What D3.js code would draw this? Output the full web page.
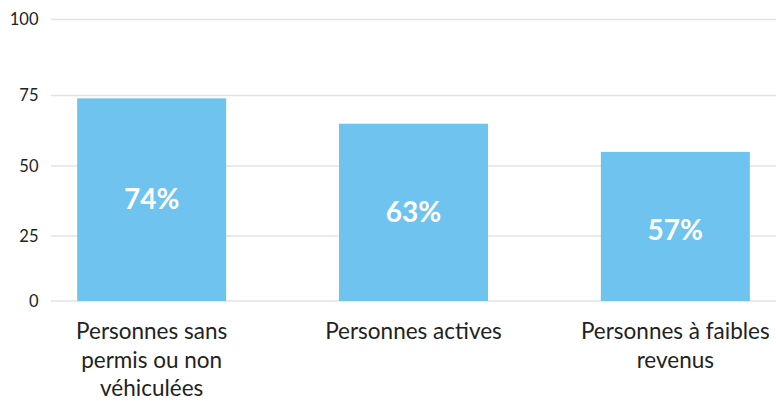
<!DOCTYPE html>
<html>
<head>
<meta charset="utf-8">
<script src="https://cdn.jsdelivr.net/npm/d3@7"></script>
<style>
  body { margin: 0; background: #fff; }
  svg { display: block; }
</style>
</head>
<body>
<div id="chart"></div>
<script>
// data
var categories = [
    ["Personnes sans", "permis ou non", "véhiculées"],
    ["Personnes actives"],
    ["Personnes à faibles", "revenus"]
];
var values = [74, 65, 55];
var valueLabels = ["74%", "63%", "57%"];
var yTicks = [0, 25, 50, 75, 100];

const width = 776, height = 401;

const svg = d3.select("#chart")
    .append("svg")
    .attr("width", width)
    .attr("height", height);

const x = d3.scaleBand()
    .domain(d3.range(categories.length))
    .range([51, 776])
    .paddingInner(0.431)
    .paddingOuter(0.1);

// the gridlines in the picture are not evenly spaced, so follow them piecewise
const y = d3.scaleLinear()
    .domain(yTicks)
    .range([301, 236, 166, 95.5, 19.5]);

// gridlines
svg.append("g")
    .selectAll("line")
    .data(yTicks)
    .enter().append("line")
    .attr("x1", 51)
    .attr("x2", width)
    .attr("y1", d => y(d))
    .attr("y2", d => y(d))
    .attr("stroke", "#e3e3e3")
    .attr("stroke-width", 1.5);

// y tick labels
svg.append("g")
    .selectAll("text")
    .data(yTicks)
    .enter().append("text")
    .attr("x", 38.5)
    .attr("y", d => y(d))
    .attr("dy", "0.35em")
    .attr("text-anchor", "end")
    .style("font-family", "Lato, sans-serif")
    .style("font-size", "16.5px")
    .style("fill", "#222")
    .text(d => d);

// bars
svg.append("g")
    .selectAll("rect")
    .data(values)
    .enter().append("rect")
    .attr("x", (d, i) => x(i))
    .attr("y", d => y(d))
    .attr("width", x.bandwidth())
    .attr("height", d => y(0) - y(d))
    .attr("fill", "#6fc3ef");

// value labels
svg.append("g")
    .selectAll("text")
    .data(values)
    .enter().append("text")
    .attr("x", (d, i) => x(i) + x.bandwidth() / 2)
    .attr("y", (d, i) => (y(d) + y(0)) / 2 + (i === 2 ? 4 : 0))
    .attr("dy", "0.35em")
    .attr("text-anchor", "middle")
    .style("font-family", "Lato, sans-serif")
    .style("font-weight", "bold")
    .style("font-size", "28px")
    .style("fill", "#fff")
    .text((d, i) => valueLabels[i]);

// category labels
var cat = svg.append("g")
    .selectAll("text")
    .data(categories)
    .enter().append("text")
    .attr("x", (d, i) => x(i) + x.bandwidth() / 2)
    .attr("y", 339)
    .attr("text-anchor", "middle")
    .style("font-family", "Lato, sans-serif")
    .style("font-size", "22.5px")
    .style("fill", "#222");

cat.selectAll("tspan")
    .data(d => d)
    .enter().append("tspan")
    .attr("x", function () { return d3.select(this.parentNode).attr("x"); })
    .attr("dy", (d, i) => i === 0 ? 0 : 28.5)
    .text(d => d);
</script>
</body>
</html>
